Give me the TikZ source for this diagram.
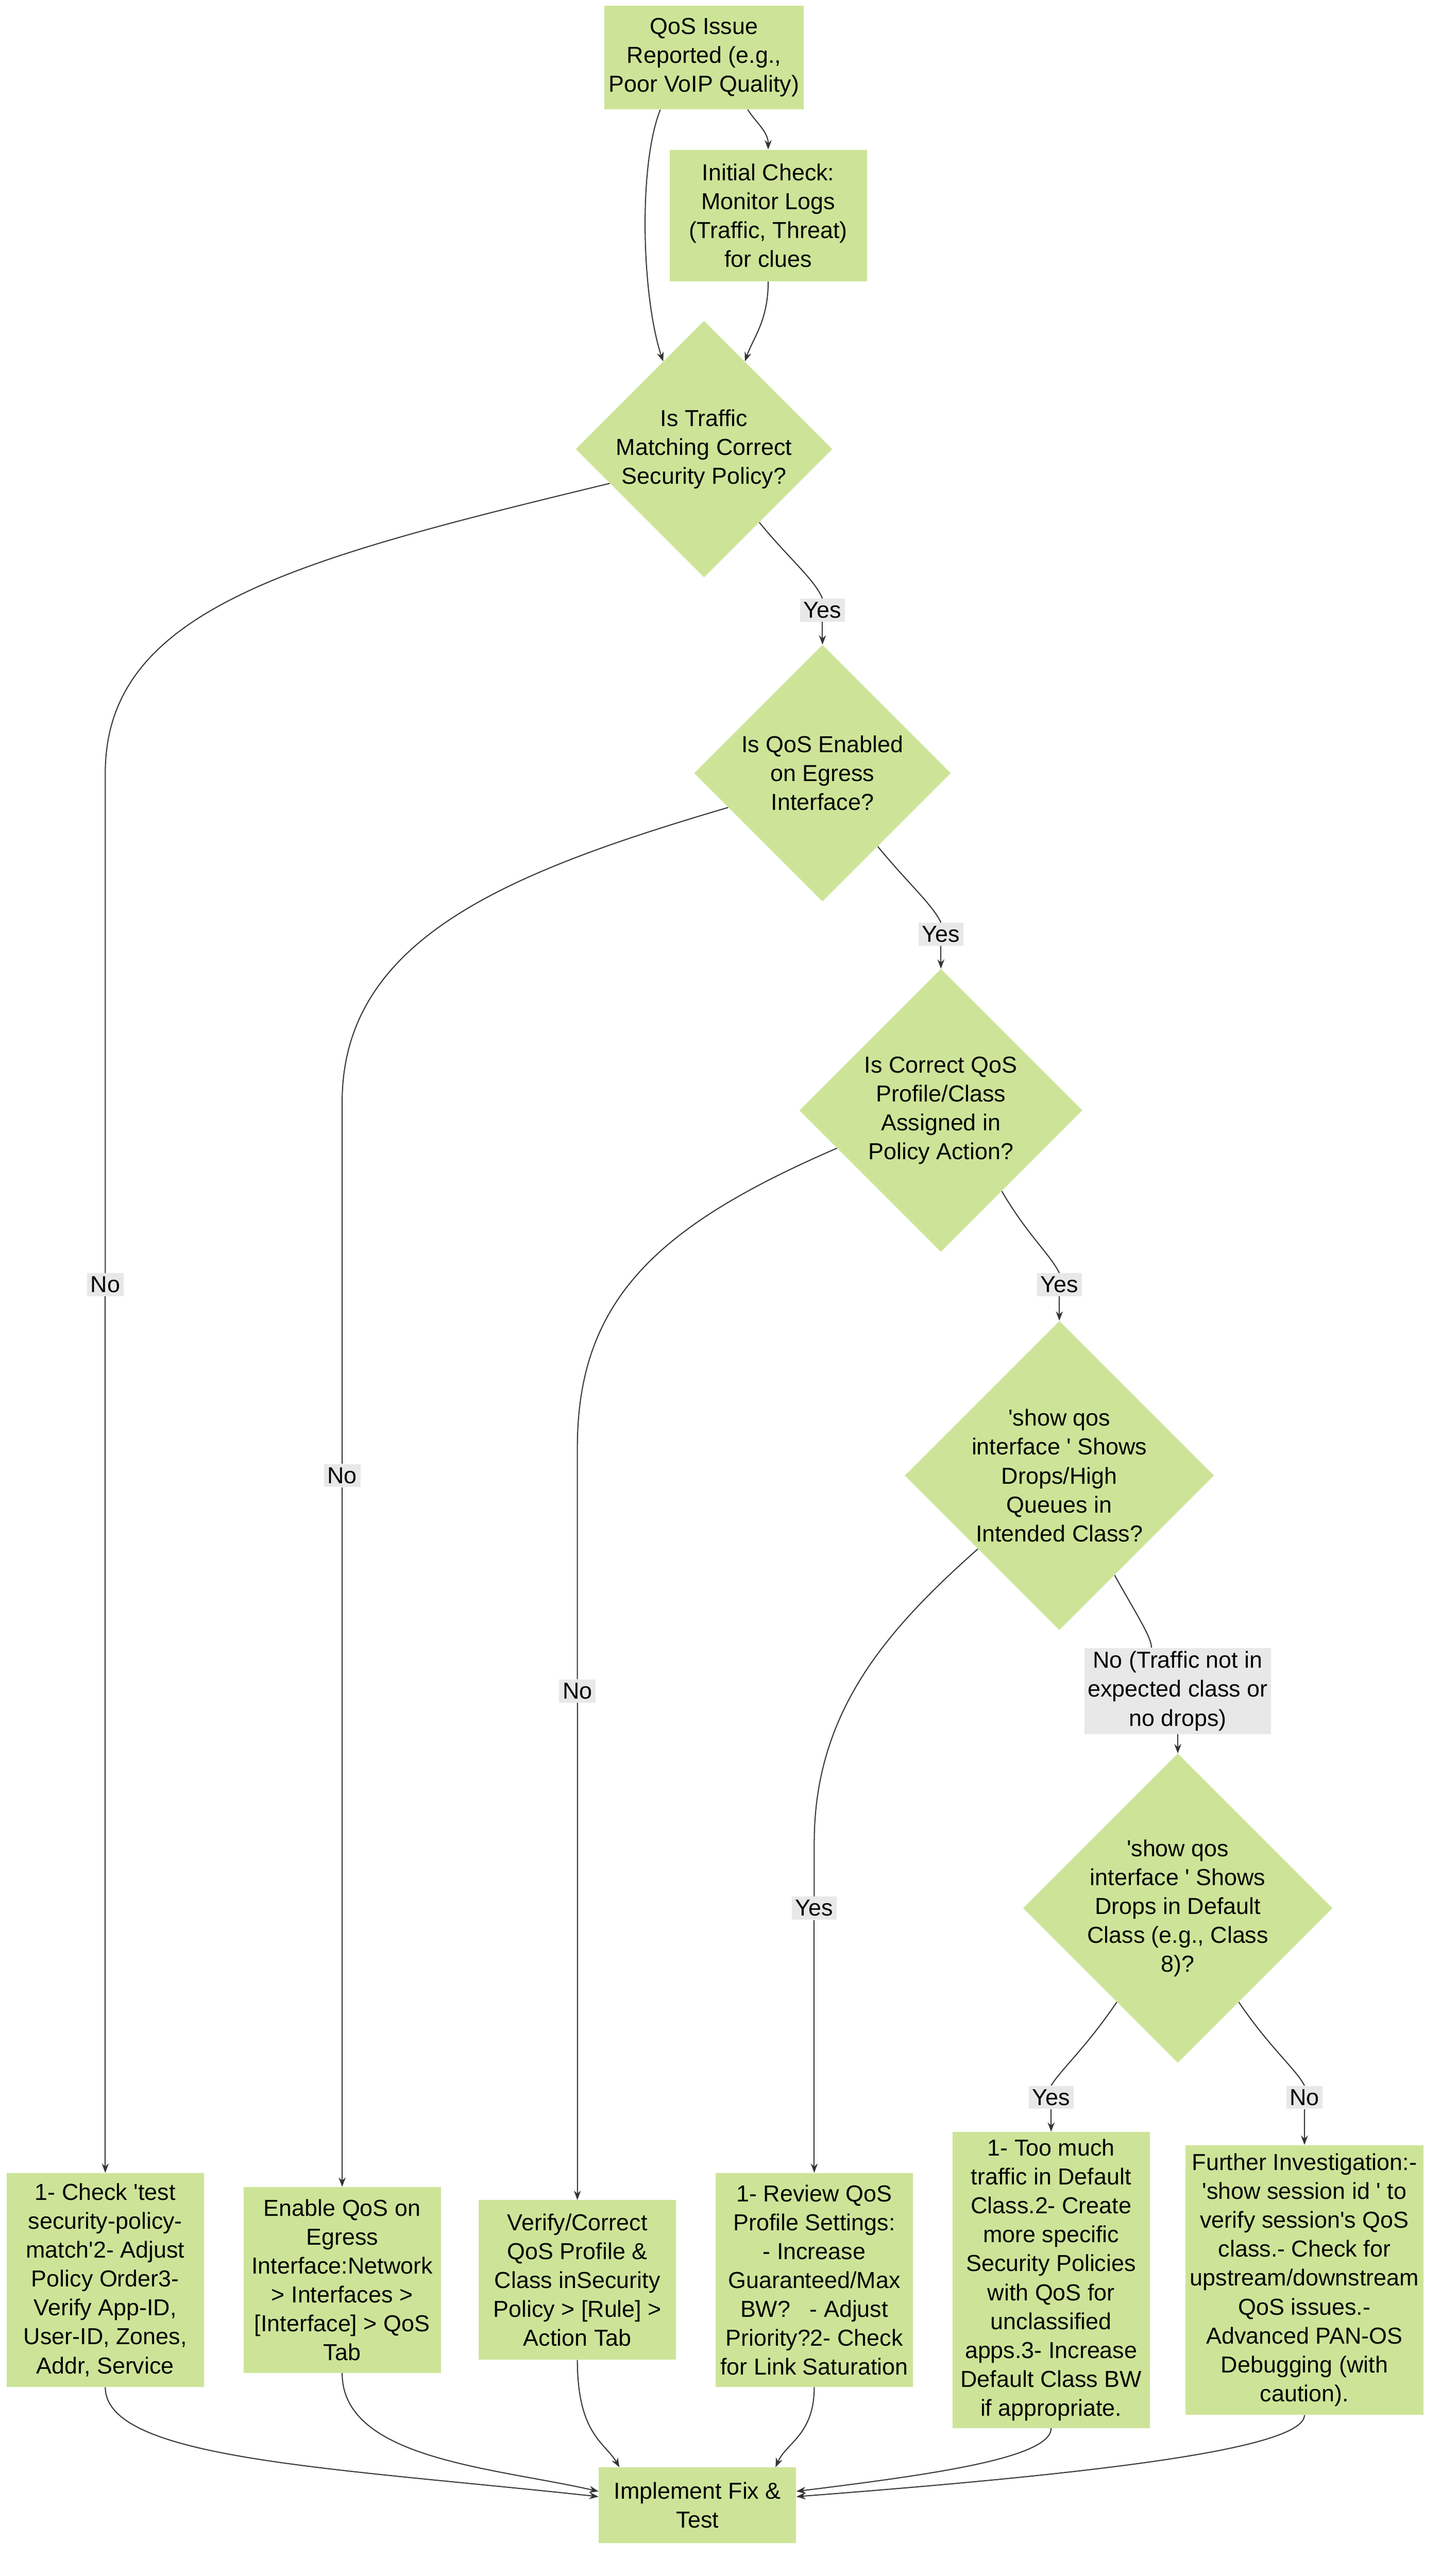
\documentclass[tikz,border=0pt]{standalone}
\usepackage{fontspec}
\setmainfont{Liberation Sans}
\usetikzlibrary{shapes.geometric, arrows.meta}
\definecolor{boxgreen}{HTML}{CDE498}
\definecolor{labelgrey}{HTML}{E8E8E8}
\definecolor{linegrey}{HTML}{333333}
\tikzset{
    step box/.style={
        fill=boxgreen,
        align=center,
        minimum width=6cm,
        inner sep=4pt,
        font=\fontsize{20}{25}\selectfont
    },
    decision/.style={
        diamond,
        fill=boxgreen,
        aspect=1,
        inner sep=0pt
    },
    dec text/.style={
        align=center,
        font=\fontsize{20}{25}\selectfont
    },
    edge label/.style={
        fill=labelgrey,
        align=center,
        inner sep=3pt,
        font=\fontsize{20}{25}\selectfont
    },
    link/.style={draw=linegrey, line width=0.9pt},
    arr/.style={link, -{Stealth[length=8pt,width=6pt]}}
}
\newcommand{\sq}{\textquotesingle}
\begin{document}
\begin{tikzpicture}[x=0.05cm, y=-0.05cm]
  \useasboundingbox (0,0) rectangle (876,1566);
  % boxes and decisions
  \node[step box, minimum height=3.15cm] (report) at (428,35) {QoS Issue\\Reported (e.g.,\\Poor VoIP Quality)};
  \node[step box, minimum height=4cm] (check) at (467,131) {Initial Check:\\Monitor Logs\\(Traffic, Threat)\\for clues};
  \node[decision, minimum size=7.8cm] (policy) at (428,273) {};
  \node[dec text] at (policy) {Is Traffic\\Matching Correct\\Security Policy?};
  \node[decision, minimum size=7.8cm] (enabled) at (500,470) {};
  \node[dec text] at (enabled) {Is QoS Enabled\\on Egress\\Interface?};
  \node[decision, minimum size=8.6cm] (profile) at (572,675) {};
  \node[dec text] at (profile) {Is Correct QoS\\Profile/Class\\Assigned in\\Policy Action?};
  \node[decision, minimum size=9.4cm] (drops) at (644,897) {};
  \node[dec text] at (drops) {\sq show qos\\interface \sq\ Shows\\Drops/High\\Queues in\\Intended Class?};
  \node[decision, minimum size=9.4cm] (default) at (716,1160) {};
  \node[dec text] at (default) {\sq show qos\\interface \sq\ Shows\\Drops in Default\\Class (e.g., Class\\8)?};
  \node[step box, minimum height=6.5cm] (fixpolicy) at (64,1386) {1- Check \sq test\\security-policy-\\match\sq 2- Adjust\\Policy Order3-\\Verify App-ID,\\User-ID, Zones,\\Addr, Service};
  \node[step box, minimum height=5.65cm] (enableqos) at (208,1386) {Enable QoS on\\Egress\\Interface:Network\\> Interfaces >\\{}[Interface] > QoS\\Tab};
  \node[step box, minimum height=4.85cm] (verifyclass) at (351,1386) {Verify/Correct\\QoS Profile \&\\Class inSecurity\\Policy > [Rule] >\\Action Tab};
  \node[step box, minimum height=6.5cm] (review) at (495,1386) {1- Review QoS\\Profile Settings:\\- Increase\\Guaranteed/Max\\BW?\ \ \ - Adjust\\Priority?2- Check\\for Link Saturation};
  \node[step box, minimum height=9cm] (toomuch) at (639,1386) {1- Too much\\traffic in Default\\Class.2- Create\\more specific\\Security Policies\\with QoS for\\unclassified\\apps.3- Increase\\Default Class BW\\if appropriate.};
  \node[step box, minimum width=7cm, minimum height=8.2cm] (further) at (793,1386) {Further Investigation:-\\\sq show session id \sq\ to\\verify session\sq s QoS\\class.- Check for\\upstream/downstream\\QoS issues.-\\Advanced PAN-OS\\Debugging (with\\caution).};
  \node[step box, minimum height=2.3cm] (fix) at (424,1523) {Implement Fix \&\\Test};
  % edge labels
  \node[edge label] (yes1) at (500,371) {Yes};
  \node[edge label] (yes2) at (572,568) {Yes};
  \node[edge label] (yes3) at (644,781) {Yes};
  \node[edge label] (no1) at (64,781) {No};
  \node[edge label] (no2) at (208,897) {No};
  \node[edge label] (no3) at (351,1028) {No};
  \node[edge label] (yes4) at (495,1160) {Yes};
  \node[edge label] (noclass) at (716,1028) {No (Traffic not in\\expected class or\\no drops)};
  \node[edge label] (yes5) at (639,1275) {Yes};
  \node[edge label] (no4) at (793,1275) {No};
  % connectors
  \draw[arr] (report.-50) .. controls (460,75) and (467,80) .. (check.north);
  \draw[arr] (report.-130) .. controls (388,100) and (390,180) .. (policy.115);
  \draw[arr] (check.south) .. controls (467,195) and (458,205) .. (policy.65);
  \draw[link] (policy.-53) .. controls (480,340) and (495,352) .. (yes1.north);
  \draw[arr] (yes1) -- (enabled.north);
  \draw[link] (policy.200) .. controls (180,340) and (64,370) .. (64,470) -- (no1);
  \draw[arr] (no1) -- (fixpolicy.north);
  \draw[link] (enabled.-53) .. controls (552,537) and (567,550) .. (yes2.north);
  \draw[arr] (yes2) -- (profile.north);
  \draw[link] (enabled.200) .. controls (310,530) and (208,570) .. (208,670) -- (no2);
  \draw[arr] (no2) -- (enableqos.north);
  \draw[link] (profile.-53) .. controls (624,750) and (638,762) .. (yes3.north);
  \draw[arr] (yes3) -- (drops.north);
  \draw[link] (profile.200) .. controls (400,745) and (351,790) .. (351,880) -- (no3);
  \draw[arr] (no3) -- (verifyclass.north);
  \draw[link] (drops.222) .. controls (540,990) and (495,1040) .. (495,1120) -- (yes4);
  \draw[arr] (yes4) -- (review.north);
  \draw[link] (drops.-61) .. controls (690,980) and (700,995) .. (noclass.north -| 700,0);
  \draw[arr] (noclass) -- (default.north);
  \draw[link] (default.237) .. controls (660,1245) and (645,1258) .. (yes5.north);
  \draw[arr] (yes5) -- (toomuch.north);
  \draw[link] (default.-57) .. controls (772,1245) and (788,1258) .. (no4.north);
  \draw[arr] (no4) -- (further.north);
  \draw[arr] (fixpolicy.south) .. controls (64,1495) and (200,1500) .. (fix.175);
  \draw[arr] (enableqos.south) .. controls (208,1495) and (300,1500) .. (fix.172);
  \draw[arr] (verifyclass.south) .. controls (351,1480) and (368,1485) .. (fix.154);
  \draw[arr] (review.south) .. controls (495,1480) and (478,1485) .. (fix.26);
  \draw[arr] (toomuch.south) .. controls (639,1495) and (560,1505) .. (fix.8);
  \draw[arr] (further.south) .. controls (793,1490) and (650,1505) .. (fix.5);
\end{tikzpicture}
\end{document}
